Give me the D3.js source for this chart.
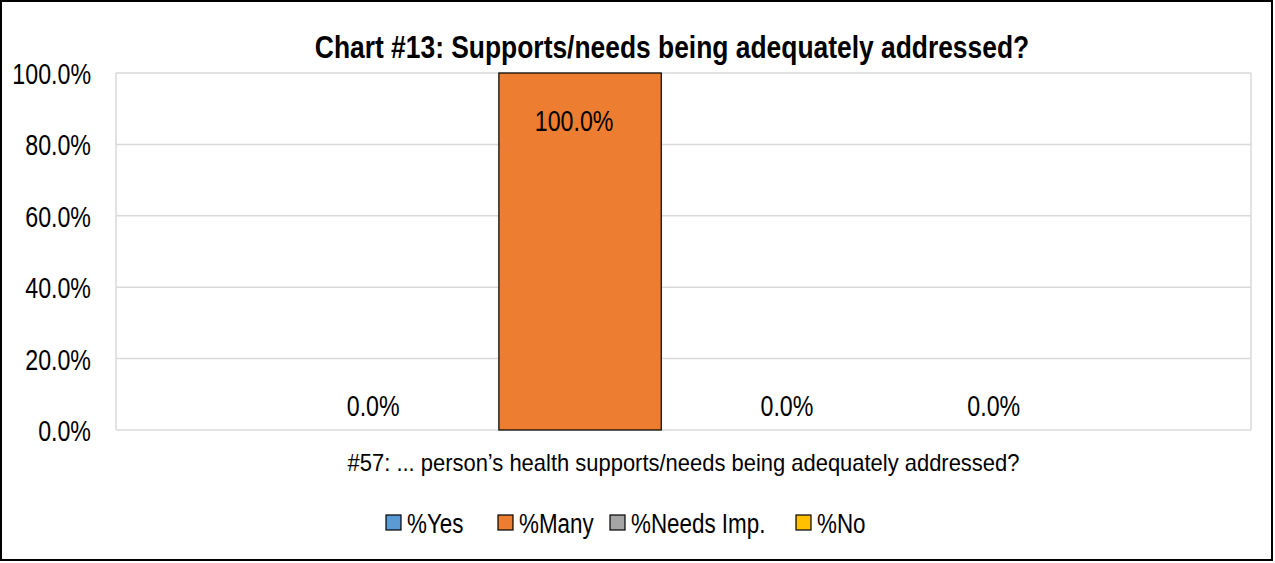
<!DOCTYPE html>
<html><head><meta charset="utf-8">
<script src="https://cdn.jsdelivr.net/npm/d3@7"></script>
<style>body{margin:0;background:#fff}svg{display:block}text{font-family:"Liberation Sans",Arial,sans-serif}</style>
</head><body>
<svg id="c" width="1275" height="563"></svg>
<script>
const title = "Chart #13: Supports/needs being adequately addressed?";
const categories = ["#57: ... person\u2019s health supports/needs being adequately addressed?"];
const series = ["%Yes", "%Many", "%Needs Imp.", "%No"];
const values = [0, 1.0, 0, 0];
const colors = ["#5B9BD5", "#ED7D31", "#A5A5A5", "#FFC000"];
const yTicks = [0, 0.2, 0.4, 0.6, 0.8, 1.0];

const svg = d3.select("#c");
const m = {left:116, right:1251, top:73, bottom:430};
const fmt = d3.format(".1%");
const NARROW = 0.8;

svg.append("rect").attr("x",1).attr("y",1).attr("width",1271).attr("height",559)
  .attr("fill","#fff").attr("stroke","#000").attr("stroke-width",2);

const y = d3.scaleLinear().domain([0,1]).range([m.bottom,m.top]);
const x0 = d3.scaleBand().domain(categories).range([m.left,m.right]).paddingInner(0).paddingOuter(0.2248);
const x1 = d3.scaleBand().domain(series).range([0,x0.bandwidth()]).paddingInner(0.215).paddingOuter(0);

function sText(sel, x, yy, sx){
  return sel.attr("transform",`translate(${x},${yy}) scale(${sx},1)`);
}

// gridlines
svg.append("g").selectAll("line").data(yTicks).join("line")
  .attr("x1",m.left).attr("x2",m.right).attr("y1",d=>y(d)).attr("y2",d=>y(d))
  .attr("stroke","#d9d9d9").attr("stroke-width",1.5);
svg.append("line").attr("x1",m.left).attr("x2",m.left).attr("y1",m.top).attr("y2",m.bottom).attr("stroke","#d9d9d9").attr("stroke-width",1.5);
svg.append("line").attr("x1",m.right).attr("x2",m.right).attr("y1",m.top).attr("y2",m.bottom).attr("stroke","#d9d9d9").attr("stroke-width",1.5);

// y axis
const yAxis = d3.axisLeft(y).tickValues(yTicks).tickFormat(fmt).tickSize(0).tickPadding(0);
const ga = svg.append("g").attr("transform",`translate(91,0)`).call(yAxis);
ga.select(".domain").remove();
ga.selectAll("text").attr("font-size",29).attr("fill","#000").attr("dy","0.36em")
  .attr("transform",`scale(${NARROW},1)`)
  .style("font-family",'"Liberation Sans",Arial,sans-serif');

// bars
const rows = series.map((s,i)=>({s, v:values[i], c:colors[i], cat:categories[0]}));
const g = svg.append("g");
g.selectAll("rect").data(rows).join("rect")
  .attr("x",d=>x0(d.cat)+x1(d.s)).attr("width",x1.bandwidth())
  .attr("y",d=>y(d.v)).attr("height",d=>y(0)-y(d.v))
  .attr("fill",d=>d.c).attr("stroke",d=>d.v>0?"#000":"none").attr("stroke-width",1.2);

g.selectAll("text").data(rows).join("text")
  .attr("transform",d=>`translate(${x0(d.cat)+x1(d.s)+x1.bandwidth()/2 - (d.v>0.1?6:0)},${d.v>0.1? y(d.v)+58 : y(d.v)-14}) scale(${NARROW},1)`)
  .attr("text-anchor","middle").attr("font-size",29).attr("fill","#000")
  .text(d=>fmt(d.v));

// category label
sText(svg.append("text"), x0(categories[0])+x0.bandwidth()/2, 471, 0.955)
  .attr("text-anchor","middle").attr("font-size",23).attr("fill","#000").text(categories[0]);

// title
sText(svg.append("text"), 672, 58, 0.825)
  .attr("text-anchor","middle").attr("font-size",32).attr("font-weight","bold").attr("fill","#000").text(title);

// legend
const legX = [386, 498, 610, 796];
const lg = svg.append("g").selectAll("g").data(series).join("g")
  .attr("transform",(d,i)=>`translate(${legX[i]},515)`);
lg.append("rect").attr("width",15).attr("height",15).attr("fill",(d,i)=>colors[i]).attr("stroke","#000").attr("stroke-width",1.2);
lg.append("text").attr("transform",`translate(21,18) scale(${NARROW},1)`).attr("font-size",28).attr("fill","#000").text(d=>d);
</script>
</body></html>
